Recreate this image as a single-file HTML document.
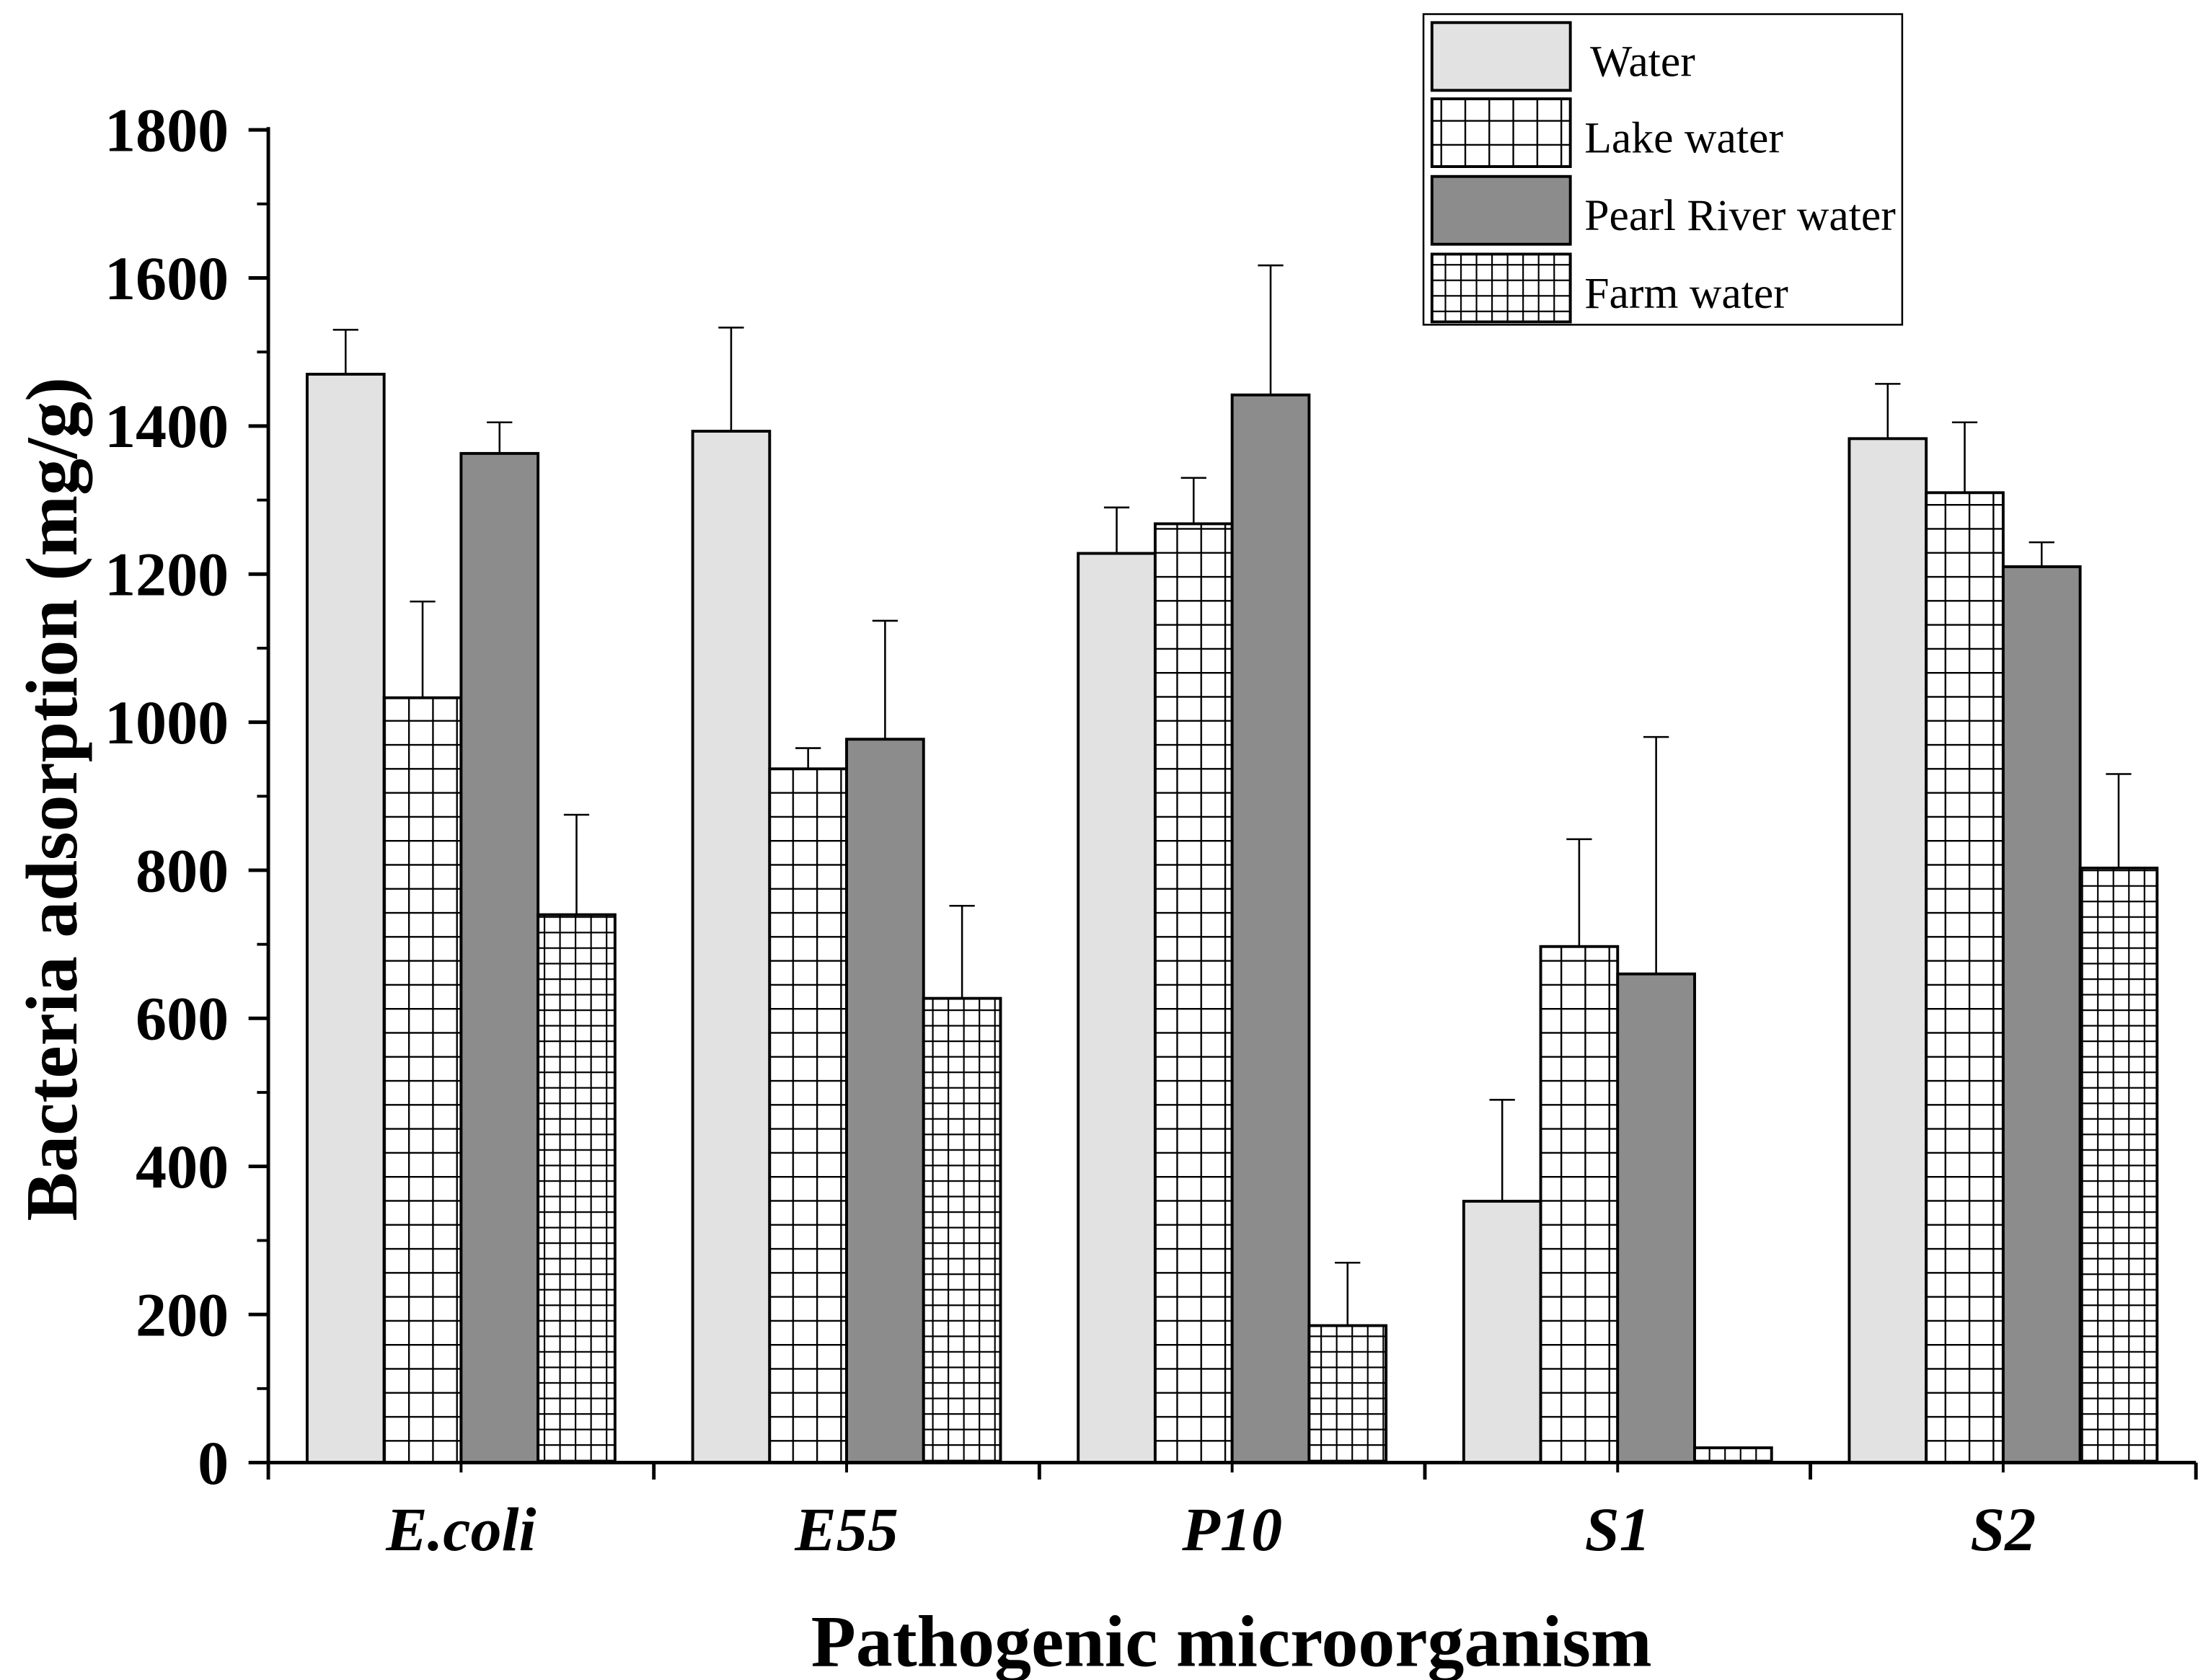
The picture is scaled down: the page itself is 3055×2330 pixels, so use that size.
<!DOCTYPE html>
<html><head><meta charset="utf-8"><style>html,body{margin:0;padding:0;background:#fff}svg{display:block}</style></head>
<body>
<svg id="chart" width="3055" height="2330" viewBox="0 0 1560 1190" preserveAspectRatio="none" xmlns="http://www.w3.org/2000/svg" font-family="Liberation Serif, serif">
<defs>
<pattern id="pLake" patternUnits="userSpaceOnUse" width="17" height="17" x="0" y="0"><rect width="17" height="17" fill="#fff"/><path d="M0 0H17M0 0V17" stroke="#000" stroke-width="2.4"/></pattern>
<pattern id="pFarm" patternUnits="userSpaceOnUse" width="11" height="11"><rect width="11" height="11" fill="#fff"/><path d="M0 0H11M0 0V11" stroke="#000" stroke-width="2.2"/></pattern>
</defs>
<g id="plot"></g>
</svg>
<script>
const categories=["E.coli","E55","P10","S1","S2"];
const seriesNames=["Water","Lake water","Pearl River water","Farm water"];
const water=[1470,1393,1228,353,1383];
const lake=[1033,937,1268,697,1310];
const pearl=[1363,977,1442,660,1210];
const farm=[740,627,185,20,803];
const waterErr=[60,140,62,137,74];
const lakeErr=[130,28,62,145,95];
const pearlErr=[42,160,175,320,33];
const farmErr=[135,125,85,0,127];
const yTicks=[0,200,400,600,800,1000,1200,1400,1600,1800];
const fills=["#e2e2e2","url(#pLake)","#8c8c8c","url(#pFarm)"];
const NS="http://www.w3.org/2000/svg";
const g=document.getElementById('plot');
const X0=190,X1=1555,Y0=1036,Y1=92;
const y=v=>Y0-(v/1800)*(Y0-Y1);
const band=(X1-X0)/categories.length;
const bw=54.5;
function mk(t,a){const e=document.createElementNS(NS,t);for(const k in a)e.setAttribute(k,a[k]);g.appendChild(e);return e;}
const vals=[water,lake,pearl,farm],errs=[waterErr,lakeErr,pearlErr,farmErr];
categories.forEach((c,i)=>{
  const cx=X0+band*(i+0.5);
  vals.forEach((s,j)=>{
    const x=cx-2*bw+j*bw;
    const top=y(s[i]+errs[j][i]);
    const el=mk('line',{x1:x+bw/2,x2:x+bw/2,y1:y(s[i]),y2:top,stroke:'#000','stroke-width':1.3});
    
    
    const cap=mk('line',{x1:x+bw/2-9,x2:x+bw/2+9,y1:top,y2:top,stroke:'#000','stroke-width':1.3});
    
    
    const r=mk('rect',{x:x,y:y(s[i]),width:bw,height:Y0-y(s[i]),fill:fills[j],stroke:'#000','stroke-width':2});
    
    
  });
  const t=mk('text',{x:cx,y:1098,'text-anchor':'middle','font-size':44,'font-weight':'bold','font-style':'italic'});
  t.textContent=c;
  
  
});
const ax=mk('path',{d:`M${X0} ${Y1-2}V${Y0}H${X1}`,fill:'none',stroke:'#000','stroke-width':2.5});


yTicks.forEach((v,k)=>{
  const tk=mk('line',{x1:X0-14,x2:X0,y1:y(v),y2:y(v),stroke:'#000','stroke-width':2.5});
  
  
  if(k<yTicks.length-1){const m=mk('line',{x1:X0-8,x2:X0,y1:y(v+100),y2:y(v+100),stroke:'#000','stroke-width':2});
  
  }
  const t=mk('text',{x:X0-28,y:y(v)+15,'text-anchor':'end','font-size':44,'font-weight':'bold'});
  t.textContent=v;
  
  
});
for(let i=0;i<=categories.length;i++){
  const xx=X0+band*i;
  const tk=mk('line',{x1:xx,x2:xx,y1:Y0,y2:Y0+12,stroke:'#000','stroke-width':2.5});
  
  
  if(i<categories.length){const m=mk('line',{x1:xx+band/2,x2:xx+band/2,y1:Y0,y2:Y0+7,stroke:'#000','stroke-width':2});
  
  }
}
const xt=mk('text',{x:872,y:1180,'text-anchor':'middle','font-size':52,'font-weight':'bold'});
xt.textContent='Pathogenic microorganism';


const yt=mk('text',{x:0,y:0,'text-anchor':'middle','font-size':52,'font-weight':'bold',transform:'translate(54,566) rotate(-90)'});
yt.textContent='Bacteria adsorption (mg/g)';


const lb=mk('rect',{x:1008,y:10,width:339,height:220,fill:'#fff',stroke:'#000','stroke-width':1.3});


const ly=[16,70,125,180];
seriesNames.forEach((n,j)=>{
  const r=mk('rect',{x:1014,y:ly[j],width:98,height:48,fill:fills[j],stroke:'#000','stroke-width':2});
  
  
  const t=mk('text',{x:j==0?1126:1122,y:ly[j]+38,'font-size':31.5});
  t.textContent=n;
  
  
});
</script>
</body></html>
